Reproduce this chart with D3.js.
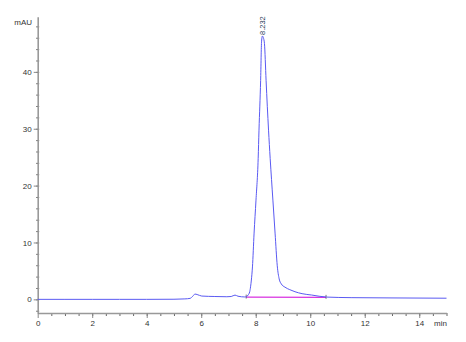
<!DOCTYPE html>
<html><head><meta charset="utf-8">
<script src="https://cdn.jsdelivr.net/npm/d3@7"></script>
<style>
html,body{margin:0;padding:0;background:#fff;}
svg{display:block;}
.axis text{font-family:"Liberation Sans",Arial,sans-serif;font-size:8px;fill:#333;}
</style></head>
<body>
<svg id="c" width="466" height="342"></svg>
<script>
// Chromatogram data (time in min, absorbance in mAU)
const times = [0, 1, 2, 3, 4, 5, 5.4, 5.59, 5.7, 5.77, 5.85, 6.02, 6.5, 6.94, 7.1, 7.24, 7.35, 7.6, 7.67, 7.72, 7.78, 7.81, 7.84, 7.88, 7.94, 8.01, 8.09, 8.12, 8.18, 8.215, 8.245, 8.28, 8.32, 8.38, 8.47, 8.53, 8.63, 8.71, 8.79, 8.86, 8.94, 9.07, 9.25, 9.44, 9.7, 10.05, 10.6, 11.5, 13, 15];
const values = [0, 0, 0, 0, 0, 0.02, 0.08, 0.17, 0.6, 0.93, 0.85, 0.58, 0.5, 0.46, 0.5, 0.75, 0.55, 0.42, 0.5, 0.76, 1.34, 2.2, 3.4, 5.7, 11.65, 17.45, 24.8, 29.75, 38.5, 45.4, 46.3, 46.0, 45.0, 38.5, 29.75, 24.8, 17.45, 11.65, 5.9, 3.6, 2.7, 2.15, 1.7, 1.34, 1.0, 0.76, 0.4, 0.3, 0.25, 0.2];
const baselineTimes = [7.65, 10.58];
const baselineValues = [0.4, 0.35];
const peakLabels = ["8.232"];
const peakTimes = [8.232];
const peakValues = [46.3];
const xTicks = [0, 2, 4, 6, 8, 10, 12, 14];
const yTicks = [0, 10, 20, 30, 40];

const svg = d3.select("#c");
const x = d3.scaleLinear().domain([0, 15]).range([37.7, 446.5]);
const y = d3.scaleLinear().domain([-2.4, 49.7]).range([313, 16.7]);

const axisColor = "#999";

// Y axis minor ticks
const gyMinor = svg.append("g").attr("transform", `translate(${x(0)},0)`)
  .call(d3.axisLeft(y).tickValues(d3.range(-2, 49, 2)).tickSize(2).tickFormat(""));
gyMinor.select(".domain").remove();
gyMinor.selectAll("line").attr("stroke", "#666").attr("x2", 1.5).attr("x1", -1.5);

// Y axis major
const gy = svg.append("g").attr("class", "axis").attr("transform", `translate(${x(0)},0)`)
  .call(d3.axisLeft(y).tickValues(yTicks).tickSize(4).tickPadding(2).tickSizeOuter(0));
gy.select(".domain").attr("stroke", axisColor).attr("stroke-width", 1.6);
gy.selectAll("line").attr("stroke", "#888");

// X axis minor
const gxMinor = svg.append("g").attr("transform", `translate(0,${y.range()[0]})`)
  .call(d3.axisBottom(x).tickValues(d3.range(0.5, 15.01, 0.5)).tickSize(3).tickFormat(""));
gxMinor.select(".domain").remove();
gxMinor.selectAll("line").attr("stroke", "#666");

// X axis major
const gx = svg.append("g").attr("class", "axis").attr("transform", `translate(0,${y.range()[0]})`)
  .call(d3.axisBottom(x).tickValues(xTicks).tickSize(5).tickPadding(2).tickSizeOuter(0));
gx.select(".domain").attr("stroke", axisColor).attr("stroke-width", 1.6);
gx.selectAll("line").attr("stroke", "#888");

// unit labels
svg.append("text").attr("x", 32).attr("y", 25).attr("text-anchor", "end")
  .attr("font-family", "Liberation Sans, Arial, sans-serif").attr("font-size", 8).attr("fill", "#333").text("mAU");
svg.append("text").attr("x", 447).attr("y", 326).attr("text-anchor", "end")
  .attr("font-family", "Liberation Sans, Arial, sans-serif").attr("font-size", 8).attr("fill", "#333").text("min");

// baseline (integration)
svg.append("line")
  .attr("x1", x(baselineTimes[0])).attr("y1", y(baselineValues[0]))
  .attr("x2", x(baselineTimes[1])).attr("y2", y(baselineValues[1]))
  .attr("stroke", "#d832e0").attr("stroke-width", 1.4);
baselineTimes.forEach((t, i) => {
  svg.append("line").attr("x1", x(t)).attr("x2", x(t))
    .attr("y1", y(baselineValues[i]) - 2.5).attr("y2", y(baselineValues[i]) + 1.5)
    .attr("stroke", "#555").attr("stroke-width", 0.8);
});

// trace
const data = times.map((t, i) => [t, values[i]]);
svg.append("path").datum(data)
  .attr("fill", "none").attr("stroke", "#5a5af2").attr("stroke-width", 1)
  .attr("d", d3.line().x(d => x(d[0])).y(d => y(d[1])).curve(d3.curveMonotoneX));

// peak labels
peakLabels.forEach((lab, i) => {
  svg.append("text")
    .attr("transform", `translate(${x(peakTimes[i]) + 2.8},${y(peakValues[i]) - 1}) rotate(-90)`)
    .attr("font-family", "Liberation Sans, Arial, sans-serif").attr("font-size", 7.5)
    .attr("fill", "#2a3a5a").text(lab);
});
</script>
</body></html>
